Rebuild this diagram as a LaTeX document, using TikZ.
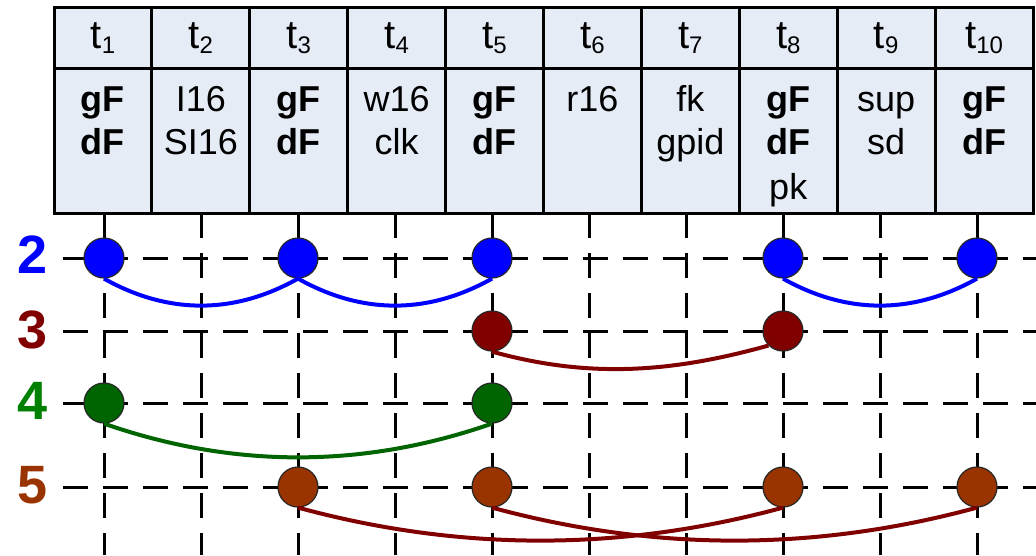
\documentclass[tikz,border=0pt]{standalone}
\usepackage{fontspec}
\setmainfont{Liberation Sans}
\definecolor{tabfill}{RGB}{230,236,246}
\definecolor{cblue}{RGB}{0,0,255}
\definecolor{cred}{RGB}{128,0,0}
\definecolor{cgreen}{RGB}{0,100,0}
\definecolor{lgreen}{RGB}{0,128,0}
\definecolor{cbrown}{RGB}{153,51,0}
\newcommand\tsub[1]{\raisebox{-5pt}{\fontsize{24}{24}\selectfont #1}}
\begin{document}
\begin{tikzpicture}[x=1pt,y=-1pt,
  gridline/.style={line width=3pt, dash pattern=on 25pt off 15pt},
  tabline/.style={line width=3pt},
  dot/.style={circle, minimum size=40pt, inner sep=0pt, draw=black!85, line width=1.2pt},
  hdr/.style={anchor=base, inner sep=0pt, font=\fontsize{40}{40}\selectfont},
  txt/.style={anchor=base, inner sep=0pt, font=\fontsize{36}{36}\selectfont},
  btxt/.style={anchor=base, inner sep=0pt, font=\fontsize{36}{36}\selectfont\bfseries},
  lbl/.style={inner sep=0pt, font=\fontsize{54}{54}\selectfont\bfseries},
  link/.style={line width=4pt}]
\useasboundingbox (0,0) rectangle (1036,555);
% table
\fill[tabfill] (54,7) rectangle (1033,213);
\foreach \k in {0,...,10} \draw[tabline] ({54+97.9*\k},7) -- ({54+97.9*\k},213);
\draw[tabline] (52.5,7) -- (1034.5,7) (54,68) -- (1033,68) (52.5,213) -- (1034.5,213);
% header
\foreach \k in {1,...,10} \node[hdr] (h\k) at ({54+97.9*(\k-0.5)},48) {t\tsub{\k}};
% body text
\node[btxt] (c1a) at (102.95,111) {gF};
\node[btxt] (c1b) at (102.95,154) {dF};
\node[txt] (c2a) at (200.85,111) {I16};
\node[txt] (c2b) at (200.85,154) {SI16};
\node[btxt] (c3a) at (298.75,111) {gF};
\node[btxt] (c3b) at (298.75,154) {dF};
\node[txt] (c4a) at (396.65,111) {w16};
\node[txt] (c4b) at (396.65,154) {clk};
\node[btxt] (c5a) at (494.55,111) {gF};
\node[btxt] (c5b) at (494.55,154) {dF};
\node[txt] (c6a) at (592.45,111) {r16};
\node[txt] (c7a) at (690.35,111) {fk};
\node[txt] (c7b) at (690.35,154) {gpid};
\node[btxt] (c8a) at (788.25,111) {gF};
\node[btxt] (c8b) at (788.25,154) {dF};
\node[txt] (c8c) at (788.25,199) {pk};
\node[txt] (c9a) at (886.15,111) {sup};
\node[txt] (c9b) at (886.15,154) {sd};
\node[btxt] (c10a) at (984.05,111) {gF};
\node[btxt] (c10b) at (984.05,154) {dF};
% grid
\foreach \y in {258,331,403,487} \draw[gridline] (63,\y) -- (1036,\y);
\foreach \k in {0,...,9} \draw[gridline] ({104+97*\k},213) -- ({104+97*\k},555);
% row labels
\node[lbl, text=cblue] (l2) at (33,255) {2};
\node[lbl, text=cred] (l3) at (33,330) {3};
\node[lbl, text=lgreen] (l4) at (33,401) {4};
\node[lbl, text=cbrown] (l5) at (33,485) {5};
% dots
\node[dot, fill=cblue] (b1) at (104,258) {};
\node[dot, fill=cblue] (b3) at (298,258) {};
\node[dot, fill=cblue] (b5) at (492,258) {};
\node[dot, fill=cblue] (b8) at (783,258) {};
\node[dot, fill=cblue] (b10) at (977,258) {};
\node[dot, fill=cred] (r5) at (492,331) {};
\node[dot, fill=cred] (r8) at (783,331) {};
\node[dot, fill=cgreen] (g1) at (104,403) {};
\node[dot, fill=cgreen] (g5) at (492,403) {};
\node[dot, fill=cbrown] (o3) at (298,487) {};
\node[dot, fill=cbrown] (o5) at (492,487) {};
\node[dot, fill=cbrown] (o8) at (783,487) {};
\node[dot, fill=cbrown] (o10) at (977,487) {};
% links
\draw[link, cblue] (b1.south) .. controls +(64,36) and +(-64,36) .. (b3.south);
\draw[link, cblue] (b3.south) .. controls +(64,36) and +(-64,36) .. (b5.south);
\draw[link, cblue] (b8.south) .. controls +(64,36) and +(-64,36) .. (b10.south);
\draw[link, cred] (r5.south) .. controls +(97,27) and +(-97,27) .. (r8.south west);
\draw[link, cgreen] (g1.south) .. controls +(129,45) and +(-129,45) .. (g5.south);
\draw[link, cred] (o3.south) .. controls +(162,44) and +(-162,44) .. (o8.south);
\draw[link, cred] (o5.south) .. controls +(162,44) and +(-162,44) .. (o10.south);
\end{tikzpicture}
\end{document}
